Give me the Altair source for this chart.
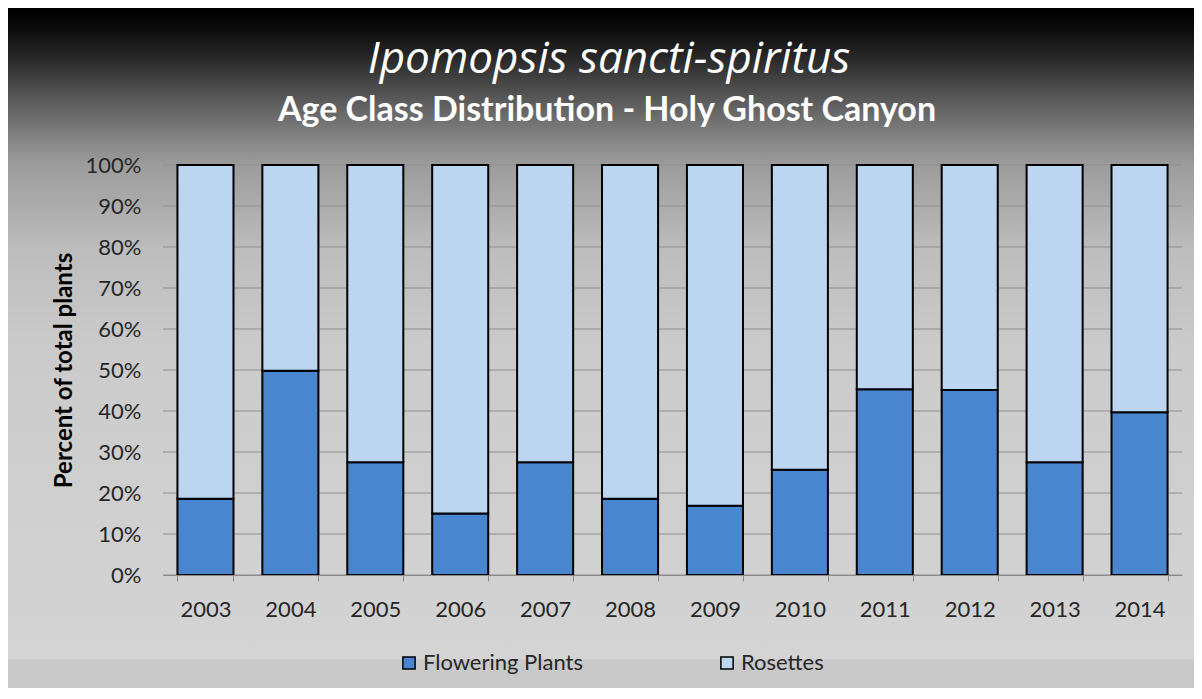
import altair as alt
import pandas as pd

years = ["2003", "2004", "2005", "2006", "2007", "2008", "2009", "2010", "2011", "2012", "2013", "2014"]
flowering = [18.6, 49.8, 27.5, 15.0, 27.5, 18.6, 16.9, 25.7, 45.3, 45.1, 27.5, 39.7]
rosettes = [81.4, 50.2, 72.5, 85.0, 72.5, 81.4, 83.1, 74.3, 54.7, 54.9, 72.5, 60.3]
series = ["Flowering Plants", "Rosettes"]
colors = ["#4a86d0", "#bcd6f2"]
ticks = [0, 10, 20, 30, 40, 50, 60, 70, 80, 90, 100]
title_text = "Ipomopsis sancti-spiritus"
subtitle_text = "Age Class Distribution - Holy Ghost Canyon"
y_title = "Percent of total plants"

rows = []
for y, f, r in zip(years, flowering, rosettes):
    rows.append({"year": y, "series": series[0], "value": f, "order": 0})
    rows.append({"year": y, "series": series[1], "value": r, "order": 1})
df = pd.DataFrame(rows)

W, H = 1019, 410
PL, PT, PR, PB = 155, 157, 12, 113

grad = alt.Gradient(
    gradient="linear", x1=0, y1=0, x2=0, y2=1,
    stops=[
        alt.GradientStop(offset=0.0, color="#000000"),
        alt.GradientStop(offset=0.032, color="#0c0c0c"),
        alt.GradientStop(offset=0.076, color="#2a2a2a"),
        alt.GradientStop(offset=0.135, color="#5a5a5a"),
        alt.GradientStop(offset=0.194, color="#858585"),
        alt.GradientStop(offset=0.231, color="#9c9c9c"),
        alt.GradientStop(offset=0.356, color="#bdbdbd"),
        alt.GradientStop(offset=0.503, color="#cbcbcb"),
        alt.GradientStop(offset=0.957, color="#d4d4d4"),
        alt.GradientStop(offset=0.959, color="#c9c9c9"),
        alt.GradientStop(offset=1.0, color="#c9c9c9"),
    ],
)

one = pd.DataFrame({"a": [0]})
yscale = alt.Scale(domain=[0, 100], nice=False)
yaxis = alt.Axis(values=ticks, labelExpr="datum.value + '%'",
                 labelFont="Lato", labelFontSize=22, labelColor="#262626",
                 labelPadding=22, ticks=False, domain=False, grid=False, zindex=1,
                 titleFont="Lato", titleFontSize=24, titleFontWeight="bold",
                 titleColor="#000000", titlePadding=9)

bg = alt.Chart(one).mark_rect(fill=grad).encode(
    x=alt.value(-PL), x2=alt.value(W + PR), y=alt.value(-PT), y2=alt.value(H + PB)
)

grid = alt.Chart(pd.DataFrame({"t": ticks})).mark_rule(color="#8f8f8f", strokeWidth=1).encode(
    y=alt.Y("t:Q", scale=yscale, axis=yaxis, title=y_title)
)

title = alt.Chart(one).mark_text(
    text=title_text, font="Open Sans", fontSize=44, fontStyle="italic", color="#ffffff",
    align="center", baseline="alphabetic"
).encode(x=alt.value(446), y=alt.value(-92))

subtitle = alt.Chart(one).mark_text(
    text=subtitle_text, font="Lato", fontSize=34, fontWeight="bold", color="#ffffff",
    align="center", baseline="alphabetic"
).encode(x=alt.value(444), y=alt.value(-44))

bars = alt.Chart(df).mark_bar(stroke="#000000", strokeWidth=2).encode(
    x=alt.X("year:N", sort=years, title=None,
            scale=alt.Scale(paddingInner=0.34, paddingOuter=0.17),
            axis=alt.Axis(labelAngle=0, labelFont="Lato", labelFontSize=22, labelColor="#262626",
                          labelPadding=18, tickBand="extent", tickSize=6, tickColor="#8a8a8a",
                          domainColor="#8a8a8a", grid=False, zindex=1)),
    y=alt.Y("value:Q", stack="zero", title=y_title, scale=yscale, axis=yaxis),
    color=alt.Color("series:N", sort=series,
                    scale=alt.Scale(domain=series, range=colors),
                    legend=alt.Legend(title=None, orient="none", direction="horizontal",
                                      legendX=235, legendY=487, symbolType="square",
                                      symbolSize=150, symbolStrokeColor="#000000",
                                      symbolStrokeWidth=1.5, labelFont="Lato",
                                      labelFontSize=22, labelColor="#262626",
                                      columnPadding=133, labelOffset=3, zindex=1)),
    order=alt.Order("order:Q"),
)

chart = alt.layer(bg, grid, bars, title, subtitle).properties(
    width=W, height=H,
    padding={"left": PL, "top": PT, "right": PR, "bottom": PB},
    autosize=alt.AutoSizeParams(type="none"),
).configure_view(stroke=None).configure(background="#c9c9c9")

chart.save("out.html", embed_options={"renderer": "svg", "actions": False})
